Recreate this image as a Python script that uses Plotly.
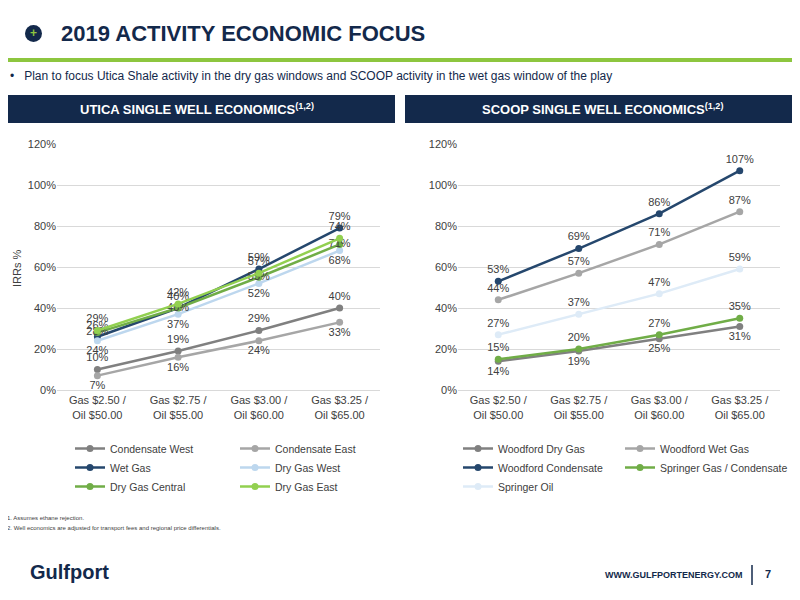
import plotly.graph_objects as go

categories = ["Gas $2.50 /<br>Oil $50.00", "Gas $2.75 /<br>Oil $55.00",
              "Gas $3.00 /<br>Oil $60.00", "Gas $3.25 /<br>Oil $65.00"]

utica_names = ["Condensate West", "Condensate East", "Wet Gas", "Dry Gas West", "Dry Gas Central", "Dry Gas East"]
condensate_west = [10, 19, 29, 40]
condensate_east = [7, 16, 24, 33]
wet_gas = [26, 40, 59, 79]
dry_gas_west = [24, 37, 52, 68]
dry_gas_central = [28, 40, 55, 71]
dry_gas_east = [29, 42, 57, 74]

scoop_names = ["Woodford Dry Gas", "Woodford Wet Gas", "Woodford Condensate", "Springer Gas / Condensate", "Springer Oil"]
woodford_dry = [14, 19, 25, 31]
woodford_wet = [44, 57, 71, 87]
woodford_cond = [53, 69, 86, 107]
springer_gas = [15, 20, 27, 35]
springer_oil = [27, 37, 47, 59]

NAVY = "#13294b"
FONT = "Liberation Sans"
W, H = 784, 584  # page has an 8px body margin


def px(x):
    return (x - 8) / W


def py(y):
    return 1 - (y - 8) / H


fig = go.Figure()

utica = [
    (condensate_west, "#808080", "top center", "legend"),
    (condensate_east, "#a6a6a6", "bottom center", "legend2"),
    (wet_gas, "#25476d", "top center", "legend"),
    (dry_gas_west, "#bdd7ee", "bottom center", "legend2"),
    (dry_gas_central, "#70ad47", "middle center", "legend"),
    (dry_gas_east, "#92d050", "top center", "legend2"),
]
for name, (vals, col, pos, leg) in zip(utica_names, utica):
    fig.add_trace(go.Scatter(
        x=categories, y=vals, name=name, mode="lines+markers+text",
        line=dict(color=col, width=2.5), marker=dict(size=7, color=col),
        text=[f"{v}%" for v in vals], textposition=pos,
        textfont=dict(size=11, color="#404040", family=FONT),
        xaxis="x", yaxis="y", legend=leg, cliponaxis=False))

scoop = [
    (woodford_dry, "#808080", "bottom center", "legend3"),
    (woodford_wet, "#a6a6a6", "top center", "legend4"),
    (woodford_cond, "#25476d", "top center", "legend3"),
    (springer_gas, "#70ad47", "top center", "legend4"),
    (springer_oil, "#deebf7", "top center", "legend3"),
]
for name, (vals, col, pos, leg) in zip(scoop_names, scoop):
    fig.add_trace(go.Scatter(
        x=categories, y=vals, name=name, mode="lines+markers+text",
        line=dict(color=col, width=2.5), marker=dict(size=7, color=col),
        text=[f"{v}%" for v in vals], textposition=pos,
        textfont=dict(size=11, color="#404040", family=FONT),
        xaxis="x2", yaxis="y2", legend=leg, cliponaxis=False))

yax = dict(range=[0, 120], dtick=20, ticksuffix="%", gridcolor="#d9d9d9",
           tickfont=dict(size=11, color="#404040"), zeroline=False, showline=False)
xax = dict(tickfont=dict(size=11, color="#404040"), showline=True, linecolor="#d9d9d9",
           showgrid=False, range=[-0.5, 3.5])

leg = dict(orientation="v", font=dict(size=10.5, color="#404040", family=FONT),
           yanchor="top", y=py(434), bgcolor="rgba(0,0,0,0)", tracegroupgap=2,
           itemwidth=30)

fig.update_layout(
    width=W, height=H, margin=dict(l=0, r=0, t=0, b=0, autoexpand=False),
    paper_bgcolor="white", plot_bgcolor="white",
    font=dict(family=FONT, color="#404040"),
    xaxis=dict(domain=[px(57), px(380)], **xax),
    yaxis=dict(domain=[py(390), py(144)], anchor="x", **yax),
    xaxis2=dict(domain=[px(458), px(780)], anchor="y2", **xax),
    yaxis2=dict(domain=[py(390), py(144)], anchor="x2", **yax),
    legend=dict(x=px(70), **leg),
    legend2=dict(x=px(235), **leg),
    legend3=dict(x=px(458), **leg),
    legend4=dict(x=px(620), **leg),
)

shapes = [
    dict(type="circle", xref="paper", yref="paper", x0=px(25), x1=px(42), y0=py(42), y1=py(25),
         fillcolor=NAVY, line=dict(width=0)),
    dict(type="rect", xref="paper", yref="paper", x0=0, x1=1, y0=py(62), y1=py(58),
         fillcolor="#8dc63f", line=dict(width=0)),
    dict(type="rect", xref="paper", yref="paper", x0=0, x1=px(395), y0=py(123), y1=py(95),
         fillcolor=NAVY, line=dict(width=0)),
    dict(type="rect", xref="paper", yref="paper", x0=px(405), x1=1, y0=py(123), y1=py(95),
         fillcolor=NAVY, line=dict(width=0)),
    dict(type="line", xref="paper", yref="paper", x0=px(752), x1=px(752), y0=py(585), y1=py(565),
         line=dict(color=NAVY, width=1.5)),
]
fig.update_layout(shapes=shapes)


def ann(text, x, y, size, color, bold=False, xanchor="left", angle=0):
    fig.add_annotation(text=f"<b>{text}</b>" if bold else text, x=px(x), y=py(y),
                       xref="paper", yref="paper", showarrow=False, xanchor=xanchor,
                       yanchor="middle", textangle=angle,
                       font=dict(size=size, color=color, family=FONT))


ann("+", 33.5, 33.5, 12, "#8dc63f", True, "center")
ann("2019 ACTIVITY ECONOMIC FOCUS", 59, 33, 22, NAVY, True)
ann("•   Plan to focus Utica Shale activity in the dry gas windows and SCOOP activity in the wet gas window of the play",
    8, 76, 12, NAVY)
ann("UTICA SINGLE WELL ECONOMICS<sup>(1,2)</sup>", 197, 109, 13, "white", True, "center")
ann("SCOOP SINGLE WELL ECONOMICS<sup>(1,2)</sup>", 602, 109, 13, "white", True, "center")
ann("IRRs %", 17, 268, 11, "#404040", False, "center", -90)
ann("1. Assumes ethane rejection.", 5, 518, 6, "#404040")
ann("2. Well economics are adjusted for transport fees and regional price differentials.", 5, 528, 6, "#404040")
ann("Gulfport", 28, 572, 20, NAVY, True)
ann("WWW.GULFPORTENERGY.COM", 745, 575, 9, NAVY, True, "right")
ann("7", 768, 574, 11, NAVY, True, "center")

fig.write_html("out.html")
